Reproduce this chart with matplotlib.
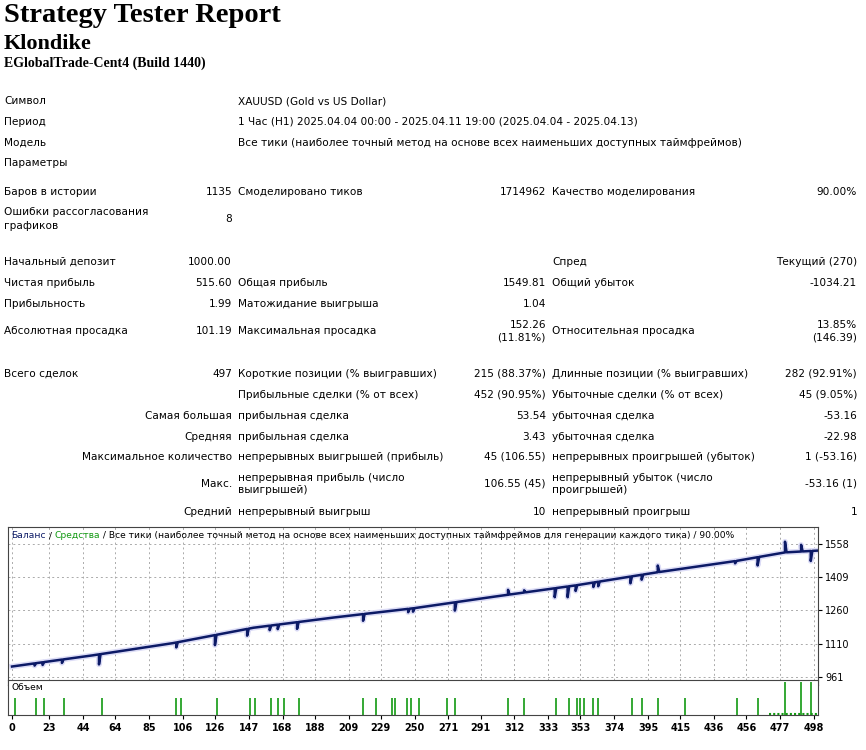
import numpy as np
import matplotlib
import matplotlib.pyplot as plt

W, H = 866, 750
fig = plt.figure(figsize=(W / 100, H / 100), dpi=100)
FS = 7.6
FONT = 'DejaVu Sans'

def px(x, y, s, ha='left', va='center', **kw):
    kw.setdefault('fontsize', FS)
    kw.setdefault('family', FONT)
    fig.text(x / W, 1 - y / H, s, ha=ha, va=va, **kw)

# ---- header ----
px(4, 15, 'Strategy Tester Report', fontsize=20.5, family='Liberation Serif', weight='bold')
px(4, 44, 'Klondike', fontsize=16, family='Liberation Serif', weight='bold')
px(4, 63, 'EGlobalTrade-Cent4 (Build 1440)', fontsize=10, family='Liberation Serif', weight='bold')

# ---- report table ----
info_rows = [
    (101, 'Символ', 'XAUUSD (Gold vs US Dollar)'),
    (122, 'Период', '1 Час (H1) 2025.04.04 00:00 - 2025.04.11 19:00 (2025.04.04 - 2025.04.13)'),
    (143, 'Модель', 'Все тики (наиболее точный метод на основе всех наименьших доступных таймфреймов)'),
    (163, 'Параметры', ''),
]
for y, a, b in info_rows:
    px(4, y, a)
    px(238, y, b)

# (y, label1, value1, label2, value2, label3, value3, label1 right-aligned)
stat_rows = [
    (192, 'Баров в истории', '1135', 'Смоделировано тиков', '1714962', 'Качество моделирования', '90.00%', False),
    (219, 'Ошибки рассогласования\nграфиков', '8', '', '', '', '', False),
    (262, 'Начальный депозит', '1000.00', '', '', 'Спред', 'Текущий (270)', False),
    (283, 'Чистая прибыль', '515.60', 'Общая прибыль', '1549.81', 'Общий убыток', '-1034.21', False),
    (304, 'Прибыльность', '1.99', 'Матожидание выигрыша', '1.04', '', '', False),
    (331, 'Абсолютная просадка', '101.19', 'Максимальная просадка', '152.26\n(11.81%)', 'Относительная просадка', '13.85%\n(146.39)', False),
    (374, 'Всего сделок', '497', 'Короткие позиции (% выигравших)', '215 (88.37%)', 'Длинные позиции (% выигравших)', '282 (92.91%)', False),
    (395, '', '', 'Прибыльные сделки (% от всех)', '452 (90.95%)', 'Убыточные сделки (% от всех)', '45 (9.05%)', False),
    (416, 'Самая большая', '', 'прибыльная сделка', '53.54', 'убыточная сделка', '-53.16', True),
    (437, 'Средняя', '', 'прибыльная сделка', '3.43', 'убыточная сделка', '-22.98', True),
    (457, 'Максимальное количество', '', 'непрерывных выигрышей (прибыль)', '45 (106.55)', 'непрерывных проигрышей (убыток)', '1 (-53.16)', True),
    (484, 'Макс.', '', 'непрерывная прибыль (число\nвыигрышей)', '106.55 (45)', 'непрерывный убыток (число\nпроигрышей)', '-53.16 (1)', True),
    (512, 'Средний', '', 'непрерывный выигрыш', '10', 'непрерывный проигрыш', '1', True),
]
for y, l1, v1, l2, v2, l3, v3, right in stat_rows:
    if right:
        px(232, y, l1, ha='right')
    else:
        px(4, y, l1, linespacing=1.6)
    px(232, y, v1, ha='right')
    px(238, y, l2, linespacing=1.3)
    px(546, y, v2, ha='right', multialignment='right', linespacing=1.3)
    px(552, y, l3, linespacing=1.3)
    px(857, y, v3, ha='right', multialignment='right', linespacing=1.3)

# ---- chart data ----
base_trades = [0, 50, 100, 150, 200, 250, 300, 350, 400, 450, 480, 500]
base_balance = [1008, 1058, 1113, 1182, 1228, 1270, 1322, 1372, 1430, 1482, 1520, 1528]
spike_trades = [14, 19, 31, 54, 102, 126, 146, 160, 165, 177, 218, 246, 249, 275,
                308, 318, 337, 345, 350, 361, 364, 384, 391, 401, 449, 463, 480, 490, 496]
spike_depth = [-10, -12, -15, -45, -22, -45, -30, -20, -20, -30, -30, -15, -15, -37,
               22, 10, -40, -48, -25, -20, -20, -30, -22, 30, -10, -37, 48, 30, -45]
vol_trades = [2, 15, 20, 32, 56, 102, 105, 127, 148, 151, 161, 165, 169, 178, 218, 226,
              236, 238, 245, 248, 253, 270, 275, 308, 318, 338, 346, 351, 353, 355, 361,
              364, 385, 391, 401, 418, 450, 463, 480, 490, 496]
vol_size = [1] * 38 + [2, 2, 2]
xticks = [0, 23, 44, 64, 85, 106, 126, 147, 168, 188, 209, 229, 250, 271, 291,
          312, 333, 353, 374, 395, 415, 436, 456, 477, 498]
yticks = [961, 1110, 1260, 1409, 1558]

xs, ys = [], []
pts = sorted([(t, 0) for t in base_trades] + list(zip(spike_trades, spike_depth)),
             key=lambda p: p[0])
for t, d in pts:
    b = np.interp(t, base_trades, base_balance)
    xs.append(t); ys.append(b)
    if d != 0:
        xs += [t, t + 1]; ys += [b + d, np.interp(t + 1, base_trades, base_balance)]

navy = '#0c1a66'
xl = (-2.5, 500.5)
L, R = 8 / W, 818 / W

ax = fig.add_axes([L, 1 - 685 / H, R - L, (685 - 527) / H])
ax.plot(xs, ys, color='#dcdcf6', lw=4)
ax.plot(xs, ys, color=navy, lw=1.8)
ax.set_xlim(*xl)
ax.set_ylim(925, 1634)
ax.set_xticks(xticks)
ax.set_yticks(yticks)
ax.tick_params(axis='x', length=0, labelbottom=False)
ax.tick_params(axis='y', left=False, right=True, labelleft=False, labelright=True,
               length=3, labelsize=7, pad=2)
ax.grid(True, ls=(0, (2, 3)), color='#aaaaaa', lw=0.7)
for s in ax.spines.values():
    s.set_color('#444444')

# legend line at top of chart
fig.canvas.draw()
r = fig.canvas.get_renderer()
parts = [('Баланс', navy), (' / ', 'black'), ('Средства', '#139a13'),
         (' / Все тики (наиболее точный метод на основе всех наименьших доступных таймфреймов для генерации каждого тика) / 90.00%', 'black')]
x0 = 11 / W
for s, c in parts:
    t = fig.text(x0, 1 - 536 / H, s, color=c, fontsize=6.6, family=FONT, va='center')
    bb = t.get_window_extent(r)
    x0 += bb.width / W

av = fig.add_axes([L, 1 - 715 / H, R - L, (715 - 680) / H])
av.vlines(vol_trades, 0, vol_size, color='#129a12', lw=1.2)
av.hlines(0.08, 470, 500, color='#129a12', lw=1.5, ls=(0, (1, 1)))
av.set_xlim(*xl)
av.set_ylim(0, 2.1)
av.set_yticks([])
av.set_xticks(xticks)
av.tick_params(axis='x', length=3, labelsize=7, pad=3)
for lab in av.get_xticklabels():
    lab.set_fontweight('bold')
av.text(0.004, 0.8, 'Объем', transform=av.transAxes, fontsize=6.6, va='center')
for s in av.spines.values():
    s.set_color('#444444')

fig.savefig('out.png', dpi=100)
